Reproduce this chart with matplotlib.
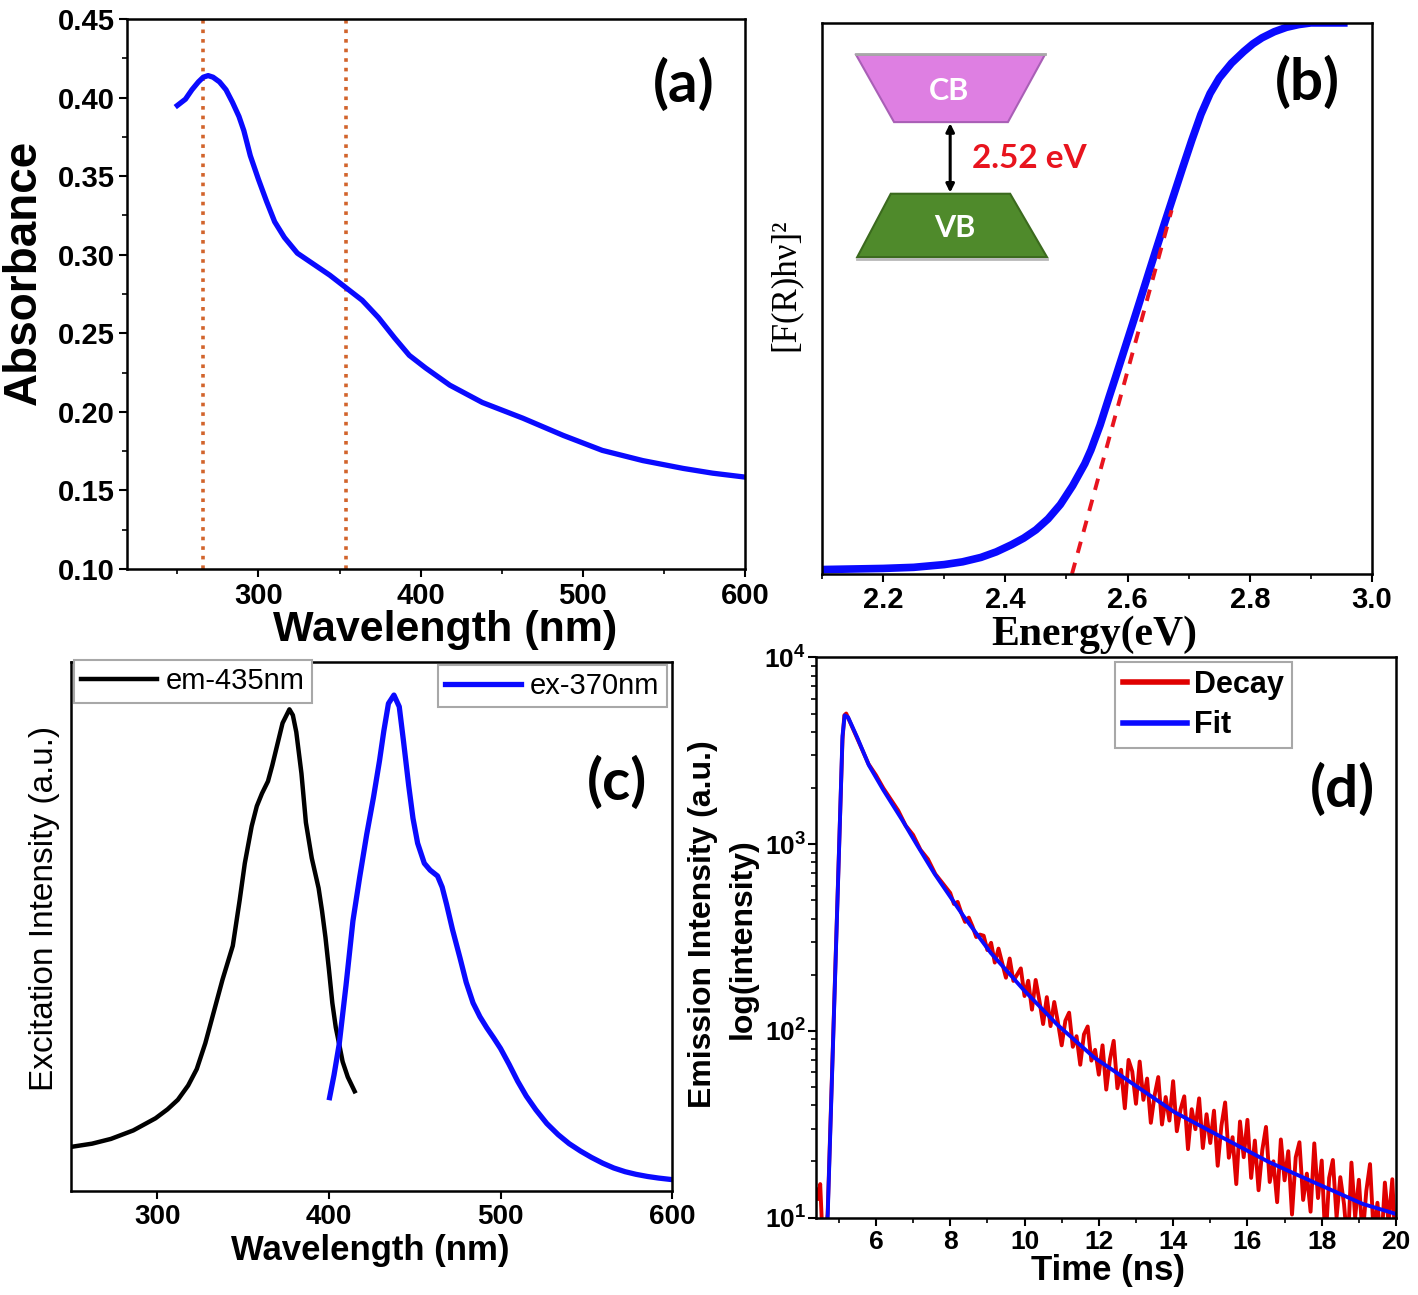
import numpy as np
import matplotlib
matplotlib.use('Agg')
import matplotlib.pyplot as plt
from matplotlib.patches import Polygon
from matplotlib.lines import Line2D
from matplotlib.ticker import MultipleLocator, FixedLocator, NullFormatter, LogLocator

plt.rcParams['font.family'] = ['Liberation Sans', 'DejaVu Sans']
plt.rcParams['mathtext.fontset'] = 'custom'
plt.rcParams['mathtext.bf'] = 'Liberation Sans:bold'
plt.rcParams['mathtext.rm'] = 'Liberation Sans'
plt.rcParams['axes.linewidth'] = 1.8

# (a) UV-vis absorbance
abs_wl = [250, 255, 259, 263, 266, 269, 272, 276, 280, 284, 288, 291, 295, 300, 305, 310, 316,
          324, 334, 344, 354, 364, 374, 384, 393, 403, 418, 438, 463, 488, 512, 537, 562, 580,
          600]
abs_val = [0.395, 0.399, 0.405, 0.410, 0.413, 0.414, 0.413, 0.410, 0.405, 0.397, 0.388, 0.379,
           0.363, 0.348, 0.334, 0.321, 0.311, 0.301, 0.294, 0.287, 0.279, 0.271, 0.260, 0.247,
           0.236, 0.228, 0.217, 0.206, 0.196, 0.185, 0.1755, 0.169, 0.164, 0.161, 0.1585]
abs_marks = [266, 354]

# (b) Tauc plot, normalised
tauc_energy = [2.10, 2.15, 2.20, 2.25, 2.30, 2.33, 2.36, 2.385, 2.41, 2.43, 2.45, 2.47, 2.49,
               2.51, 2.53, 2.54, 2.555, 2.57, 2.58, 2.595, 2.61, 2.62, 2.635, 2.645, 2.66,
               2.675, 2.69, 2.705, 2.72, 2.735, 2.75, 2.77, 2.79, 2.805, 2.82, 2.84, 2.86, 2.88,
               2.90, 2.96]
tauc_val = [0.008, 0.009, 0.010, 0.012, 0.017, 0.022, 0.030, 0.040, 0.053, 0.065, 0.080, 0.100,
            0.126, 0.160, 0.200, 0.225, 0.270, 0.322, 0.356, 0.408, 0.460, 0.495, 0.548, 0.583,
            0.635, 0.686, 0.737, 0.787, 0.834, 0.872, 0.900, 0.927, 0.948, 0.962, 0.973, 0.984,
            0.992, 0.997, 1.000, 1.000]
tangent_energy = [2.509, 2.672]
tangent_val = [0.0, 0.66]
band_gap = '2.52 eV'

# (c) excitation (em-435nm) and emission (ex-370nm) spectra, normalised
exc_wl = [250, 262, 273, 286, 299, 306, 312, 318, 323, 328, 333, 338, 344, 348, 351, 355, 358,
          361, 364.5, 367, 370, 373, 377, 379, 381, 384, 386.6, 390, 394, 396, 398, 400, 402,
          404, 406, 408, 411, 415]
exc_int = [0.084, 0.090, 0.099, 0.115, 0.138, 0.155, 0.173, 0.200, 0.231, 0.280, 0.340, 0.400,
           0.464, 0.550, 0.620, 0.690, 0.728, 0.752, 0.775, 0.805, 0.845, 0.885, 0.911, 0.900,
           0.868, 0.790, 0.697, 0.630, 0.573, 0.530, 0.480, 0.420, 0.356, 0.310, 0.278, 0.245,
           0.216, 0.189]
emi_wl = [400.4, 403, 406, 410, 414, 418, 422, 426, 429.5, 432, 434.7, 437.9, 441, 443.5, 446.5,
          449, 451.7, 455.6, 459, 463.3, 466, 468.6, 472, 476.4, 480, 484, 488, 492, 496, 500,
          505, 510, 515, 520.6, 527, 533.6, 540, 546.6, 553, 559.6, 566, 572.6, 579, 585.6, 592,
          600]
emi_int = [0.177, 0.220, 0.278, 0.390, 0.511, 0.595, 0.674, 0.745, 0.814, 0.870, 0.922, 0.938,
           0.916, 0.850, 0.767, 0.705, 0.658, 0.620, 0.607, 0.596, 0.575, 0.542, 0.495, 0.441,
           0.395, 0.356, 0.330, 0.309, 0.290, 0.270, 0.240, 0.208, 0.180, 0.154, 0.128, 0.107,
           0.090, 0.076, 0.064, 0.053, 0.044, 0.037, 0.032, 0.028, 0.025, 0.022]

# (d) time-resolved PL, log10(counts)
fit_time = [4.62, 4.70, 4.80, 4.90, 5.00, 5.10, 5.16, 5.25, 5.50, 5.81, 6.20, 6.70, 7.10, 7.58,
            8.00, 8.35, 8.70, 9.10, 9.50, 10.0, 10.4, 10.87, 11.4, 11.88, 12.4, 12.9, 13.5,
            14.03, 14.6, 15.3, 15.9, 16.56, 17.2, 17.83, 18.5, 19.1, 19.6, 20.0]
fit_log = [0.70, 1.00, 1.64, 2.28, 2.92, 3.58, 3.69, 3.68, 3.57, 3.423, 3.29, 3.132, 2.998,
           2.841, 2.719, 2.617, 2.523, 2.416, 2.327, 2.215, 2.133, 2.036, 1.942, 1.857, 1.787,
           1.719, 1.638, 1.566, 1.506, 1.432, 1.369, 1.300, 1.242, 1.186, 1.127, 1.074, 1.044,
           1.020]
decay_time_early = [4.40, 4.45, 4.50, 4.55, 4.60, 4.65, 4.70, 4.80, 4.90, 5.00, 5.10, 5.15, 5.20,
                    5.40, 5.60, 5.80, 6.00, 6.20, 6.40, 6.60, 6.80, 7.00, 7.20, 7.40, 7.60, 7.80]
decay_log_early = [1.15, 1.10, 1.18, 0.95, 0.88, 0.92, 1.02, 1.66, 2.30, 2.93, 3.56, 3.69, 3.70,
                   3.61, 3.52, 3.43, 3.37, 3.30, 3.24, 3.18, 3.10, 3.05, 2.97, 2.92, 2.84, 2.79]
decay_time_tail = np.round(np.arange(8.0, 20.05, 0.1), 1)
decay_log_tail = [
    2.739, 2.680, 2.691, 2.632, 2.584, 2.607, 2.560, 2.503, 2.516, 2.510, 2.433,
    2.472, 2.366, 2.441, 2.363, 2.285, 2.388, 2.268, 2.302, 2.335, 2.187,
    2.269, 2.114, 2.273, 2.163, 2.037, 2.181, 2.026, 2.155, 2.045, 1.923,
    2.055, 2.098, 1.915, 1.972, 1.819, 1.982, 2.024, 1.841, 1.899, 1.766,
    1.923, 1.686, 1.848, 1.947, 1.693, 1.792, 1.586, 1.845, 1.783, 1.610,
    1.836, 1.631, 1.745, 1.508, 1.654, 1.753, 1.499, 1.646, 1.520, 1.731,
    1.463, 1.580, 1.650, 1.367, 1.581, 1.474, 1.639, 1.373, 1.554, 1.400,
    1.573, 1.278, 1.492, 1.617, 1.321, 1.431, 1.180, 1.515, 1.324, 1.524,
    1.213, 1.413, 1.147, 1.362, 1.486, 1.191, 1.302, 1.083, 1.419, 1.200,
    1.356, 1.017, 1.323, 1.404, 1.095, 1.236, 1.032, 1.398, 1.105, 1.306,
    0.862, 1.213, 1.309, 1.001, 1.217, 1.073, 0.839, 1.295, 1.002, 1.203,
    0.894, 1.143, 1.287, 0.906, 1.080, 0.834, 1.188, 0.972, 1.206, 0.780]

BLUE = '#0a0aff'


def bold_ticks(ax, size):
    for lbl in ax.get_xticklabels() + ax.get_yticklabels():
        lbl.set_fontweight('bold')
        lbl.set_fontsize(size)


def style_ticks(ax):
    ax.tick_params(which='major', direction='out', length=6, width=1.5, pad=3)
    ax.tick_params(which='minor', direction='out', length=3.5, width=1.2)


def place_labels(ax, xpos, ypos):
    ax.xaxis.set_label_coords(*xpos)
    ax.yaxis.set_label_coords(*ypos)
    ax.xaxis.label.set_va('center')
    ax.yaxis.label.set_va('center')


fig = plt.figure(figsize=(14.18, 12.95), dpi=100)

# ---------------- (a)
ax = fig.add_axes([0.0896, 0.5606, 0.4358, 0.4247])
for m in abs_marks:
    ax.axvline(m, color='#d2642c', ls=':', lw=2.6)
ax.plot(abs_wl, abs_val, color=BLUE, lw=3.8)
ax.set_xlim(219, 600)
ax.set_ylim(0.10, 0.45)
ax.xaxis.set_major_locator(FixedLocator([300, 400, 500, 600]))
ax.xaxis.set_minor_locator(MultipleLocator(50))
ax.yaxis.set_major_locator(MultipleLocator(0.05))
ax.yaxis.set_minor_locator(MultipleLocator(0.025))
ax.yaxis.set_major_formatter(matplotlib.ticker.FormatStrFormatter('%.2f'))
style_ticks(ax)
bold_ticks(ax, 21)
ax.set_ylabel('Absorbance', fontsize=33, fontweight='bold')
ax.set_xlabel('Wavelength (nm)', fontsize=31, fontweight='bold')
place_labels(ax, (0.515, -0.11), (-0.167, 0.54))
ax.text(0.901, 0.88, '(a)', transform=ax.transAxes, ha='center', va='center',
        fontsize=42, fontweight='bold', family='Lato')

# ---------------- (b)
ax = fig.add_axes([0.5797, 0.5568, 0.3879, 0.4255])
ax.plot(tauc_energy, tauc_val, color=BLUE, lw=5.5, solid_capstyle='butt')
ax.plot(tangent_energy, tangent_val, color='#e8141e', lw=2.8, ls=(0, (3, 2.6)))
ax.set_xlim(2.1, 3.0)
ax.set_ylim(0, 1.0)
ax.xaxis.set_minor_locator(MultipleLocator(0.1))
ax.set_xticks([2.2, 2.4, 2.6, 2.8, 3.0])
ax.set_xticklabels(['2.2', '2.4', '2.6', '2.8', '3.0'])
ax.set_yticks([])
style_ticks(ax)
bold_ticks(ax, 21)
ax.set_ylabel('[F(R)hν]²', fontsize=25, family='Liberation Serif')
ax.set_xlabel('Energy(eV)', fontsize=30, fontweight='bold', family='Liberation Serif')
place_labels(ax, (0.495, -0.11), (-0.067, 0.525))
ax.text(0.882, 0.891, '(b)', transform=ax.transAxes, ha='center', va='center',
        fontsize=42, fontweight='bold', family='Lato')

# band diagram inset
cb = Polygon([(0.062, 0.942), (0.405, 0.942), (0.338, 0.820), (0.131, 0.820)], closed=True,
             transform=ax.transAxes, facecolor='#de7fe2', edgecolor='#a95fb6', lw=1.5)
vb = Polygon([(0.125, 0.690), (0.342, 0.690), (0.409, 0.575), (0.064, 0.575)], closed=True,
             transform=ax.transAxes, facecolor='#4f8a2b', edgecolor='#3b6a1e', lw=1.5)
ax.add_patch(cb)
ax.add_patch(vb)
ax.plot([0.062, 0.405], [0.944, 0.944], transform=ax.transAxes, color='#a8a8a8', lw=2)
ax.plot([0.064, 0.409], [0.572, 0.572], transform=ax.transAxes, color='#b8b8b8', lw=2)
ax.text(0.230, 0.877, 'CB', transform=ax.transAxes, ha='center', va='center',
        fontsize=22, fontweight='bold', color='white', family='Lato')
ax.text(0.242, 0.627, 'VB', transform=ax.transAxes, ha='center', va='center',
        fontsize=22, fontweight='bold', color='white', family='Lato')
ax.annotate('', xy=(0.233, 0.818), xytext=(0.233, 0.692), xycoords='axes fraction',
            arrowprops=dict(arrowstyle='<|-|>', lw=2.2, color='black', mutation_scale=12,
                            shrinkA=0, shrinkB=0))
ax.text(0.273, 0.754, band_gap, transform=ax.transAxes, ha='left', va='center',
        fontsize=24, fontweight='bold', color='#e8141e', family='Lato')

# ---------------- (c)
ax = fig.add_axes([0.0504, 0.0801, 0.4236, 0.4085])
l_exc, = ax.plot(exc_wl, exc_int, color='black', lw=3.2)
l_emi, = ax.plot(emi_wl, emi_int, color=BLUE, lw=3.8)
ax.set_xlim(250, 600)
ax.set_ylim(0, 1.0)
ax.xaxis.set_major_locator(FixedLocator([300, 400, 500, 600]))
ax.set_yticks([])
style_ticks(ax)
bold_ticks(ax, 20)
ax.set_ylabel('Excitation Intensity (a.u.)', fontsize=24)
ax.set_xlabel('Wavelength (nm)', fontsize=25, fontweight='bold')
place_labels(ax, (0.497, -0.112), (-0.045, 0.535))
leg_kw = dict(frameon=True, fancybox=False, edgecolor='#a8a8a8', framealpha=1, fontsize=21,
              borderpad=0.25, handlelength=2.6, handletextpad=0.3, borderaxespad=0)
leg1 = ax.legend(handles=[l_exc], labels=['em-435nm'], loc='upper left',
                 bbox_to_anchor=(0.004, 1.004), **leg_kw)
leg1.get_frame().set_linewidth(1.5)
ax.add_artist(leg1)
leg2 = ax.legend(handles=[l_emi], labels=['ex-370nm'], loc='upper right',
                 bbox_to_anchor=(0.991, 0.995), **leg_kw)
leg2.get_frame().set_linewidth(1.5)
ax.text(0.908, 0.772, '(c)', transform=ax.transAxes, ha='center', va='center',
        fontsize=42, fontweight='bold', family='Lato')
fig.text(0.4955, 0.2865, 'Emission Intensity (a.u.)', rotation=90, ha='center', va='center',
         fontsize=23, fontweight='bold')

# ---------------- (d)
ax = fig.add_axes([0.5758, 0.0597, 0.4087, 0.4326])
decay_time = np.concatenate([decay_time_early, decay_time_tail])
decay_counts = 10 ** np.concatenate([decay_log_early, decay_log_tail])
ax.plot(decay_time, decay_counts, color='#e00000', lw=2.8)
ax.plot(fit_time, 10 ** np.array(fit_log), color=BLUE, lw=2.8)
ax.set_yscale('log')
ax.set_xlim(4.4, 20)
ax.set_ylim(10, 1e4)
ax.set_yticks([10, 100, 1000, 10000])
ax.set_yticklabels([r'$\mathbf{10^{1}}$', r'$\mathbf{10^{2}}$', r'$\mathbf{10^{3}}$',
                    r'$\mathbf{10^{4}}$'])
ax.yaxis.set_minor_locator(LogLocator(base=10, subs=np.arange(2, 10)))
ax.yaxis.set_minor_formatter(NullFormatter())
ax.xaxis.set_major_locator(FixedLocator([6, 8, 10, 12, 14, 16, 18, 20]))
ax.xaxis.set_minor_locator(MultipleLocator(1))
style_ticks(ax)
ax.tick_params(axis='y', which='major', pad=1.5)
bold_ticks(ax, 19)
ax.set_ylabel('log(intensity)', fontsize=23, fontweight='bold')
ax.set_xlabel('Time (ns)', fontsize=25, fontweight='bold')
place_labels(ax, (0.503, -0.095), (-0.128, 0.499))
handles = [Line2D([], [], color='#e00000', lw=4), Line2D([], [], color=BLUE, lw=4)]
leg = ax.legend(handles=handles, labels=['Decay', 'Fit'], loc='upper left',
                bbox_to_anchor=(0.515, 0.992), frameon=True, fancybox=False,
                edgecolor='#a8a8a8', framealpha=1, borderpad=0.25, handlelength=2.1,
                handletextpad=0.25, labelspacing=0.35, borderaxespad=0,
                prop=dict(size=22, weight='bold'))
leg.get_frame().set_linewidth(1.5)
ax.text(0.907, 0.763, '(d)', transform=ax.transAxes, ha='center', va='center',
        fontsize=42, fontweight='bold', family='Lato')

fig.savefig('out.png', dpi=100)
